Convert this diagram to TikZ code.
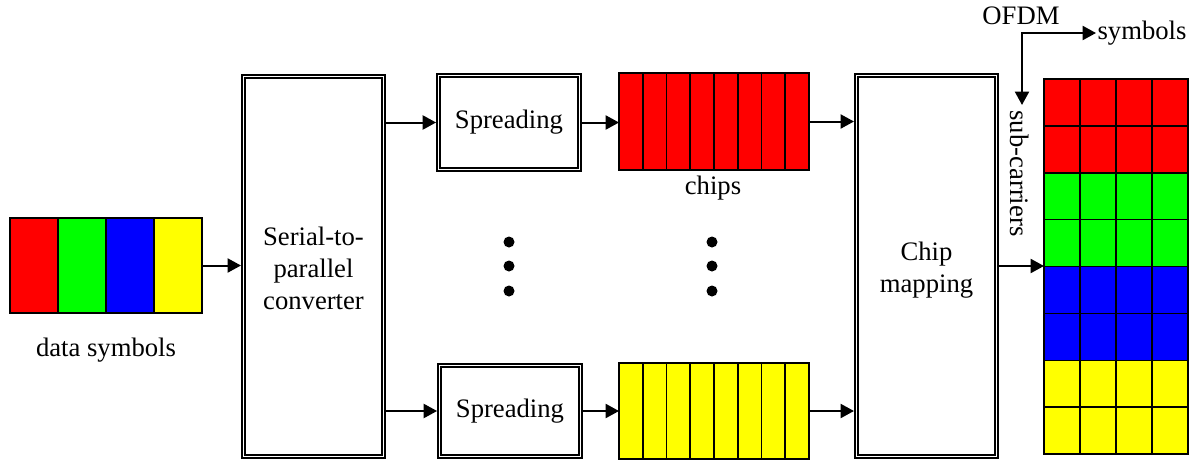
\documentclass[tikz,border=0pt]{standalone}
\usepackage{fontspec}
\setmainfont{Liberation Serif}
\usetikzlibrary{arrows.meta}
\definecolor{cred}{RGB}{255,0,0}
\definecolor{cgreen}{RGB}{0,255,0}
\definecolor{cblue}{RGB}{0,0,255}
\definecolor{cyellow}{RGB}{255,255,0}
\begin{document}
\begin{tikzpicture}[x=0.75pt,y=-0.75pt,
  every node/.style={font=\fontsize{20}{24}\selectfont},
  dbox/.style={draw=black, line width=1.3pt, double=white, double distance=1.2pt,
    rectangle, inner sep=0pt, outer sep=1.9pt, align=center},
  cell/.style={draw=black, line width=1.2pt, rectangle, inner sep=0pt, outer sep=0pt},
  tip/.tip={Triangle[length=10pt,width=10.5pt]},
  arr/.style={line width=1.5pt, -tip},
  dot/.style={circle, fill=black, inner sep=0pt, minimum size=8.25pt}]
\useasboundingbox (0,0) rectangle (1197,461);
% data symbols
\node[cell, fill=cred, minimum width=36pt, minimum height=71.25pt] (d1) at (34,265.5) {};
\node[cell, fill=cgreen, minimum width=36pt, minimum height=71.25pt] (d2) at (82,265.5) {};
\node[cell, fill=cblue, minimum width=36pt, minimum height=71.25pt] (d3) at (130,265.5) {};
\node[cell, fill=cyellow, minimum width=36pt, minimum height=71.25pt] (d4) at (178,265.5) {};
\node (dlabel) at (106,350) {data symbols};
% serial-to-parallel
\node[dbox, minimum width=105pt, minimum height=285pt,
  label={[align=center, yshift=-1.5pt]center:Serial-to-\\parallel\\converter}] (sp) at (313.5,266.5) {};
% spreading
\node[dbox, minimum width=105.6pt, minimum height=70.5pt] (spa) at (509,122.5) {Spreading};
\node[dbox, minimum width=105.6pt, minimum height=68.4pt] (spb) at (510,411) {Spreading};
% chips
\foreach \i in {1,...,8} {
  \node[cell, fill=cred, minimum width=17.81pt, minimum height=72.75pt] (ca\i) at ({619+23.75*(\i-0.5)},121.5) {};
  \node[cell, fill=cyellow, minimum width=17.81pt, minimum height=72pt] (cb\i) at ({619+23.75*(\i-0.5)},411) {};
}
\node (chips) at (713,188) {chips};
% dots
\foreach \yy/\n in {242/1,266/2,291/3} {
  \node[dot] (la\n) at (509,\yy) {};
  \node[dot] (ra\n) at (712,\yy) {};
}
% chip mapping
\node[dbox, minimum width=105pt, minimum height=285.9pt,
  label={[align=center, yshift=-3pt]center:Chip\\mapping}] (cm) at (926.5,266) {};
% grid
\foreach \r/\c in {1/cred,2/cred,3/cgreen,4/cgreen,5/cblue,6/cblue,7/cyellow,8/cyellow} {
  \foreach \k in {1,...,4} {
    \node[cell, fill=\c, minimum width=27pt, minimum height=35.2pt] (g\r\k) at ({1044+36*(\k-0.5)},{79+46.9*(\r-0.5)}) {};
  }
}
% OFDM axes
\node (ofdm) at (1021,16) {OFDM};
\coordinate (corner) at (1022,33);
\node[anchor=west, inner sep=1pt] (sym) at (1096,33) {symbols};
\node[rotate=-90, inner sep=4pt] (sub) at (1020,173.5) {sub-carriers};
\draw[line width=1.5pt, tip-tip, line join=miter] (corner |- sub.west) -- (corner) -- (sym.west);
% connectors
\draw[arr] (d4.east) -- (d4.east -| sp.west);
\draw[arr] (spa.west -| sp.east) -- (spa.west);
\draw[arr] (spb.west -| sp.east) -- (spb.west);
\draw[arr] (spa.east) -- (spa.east -| ca1.west);
\draw[arr] (spb.east) -- (spb.east -| cb1.west);
\draw[arr] (ca8.east) -- (ca8.east -| cm.west);
\draw[arr] (cb8.east) -- (cb8.east -| cm.west);
\draw[arr] (cm.east) -- (cm.east -| g41.south west);
\end{tikzpicture}
\end{document}
